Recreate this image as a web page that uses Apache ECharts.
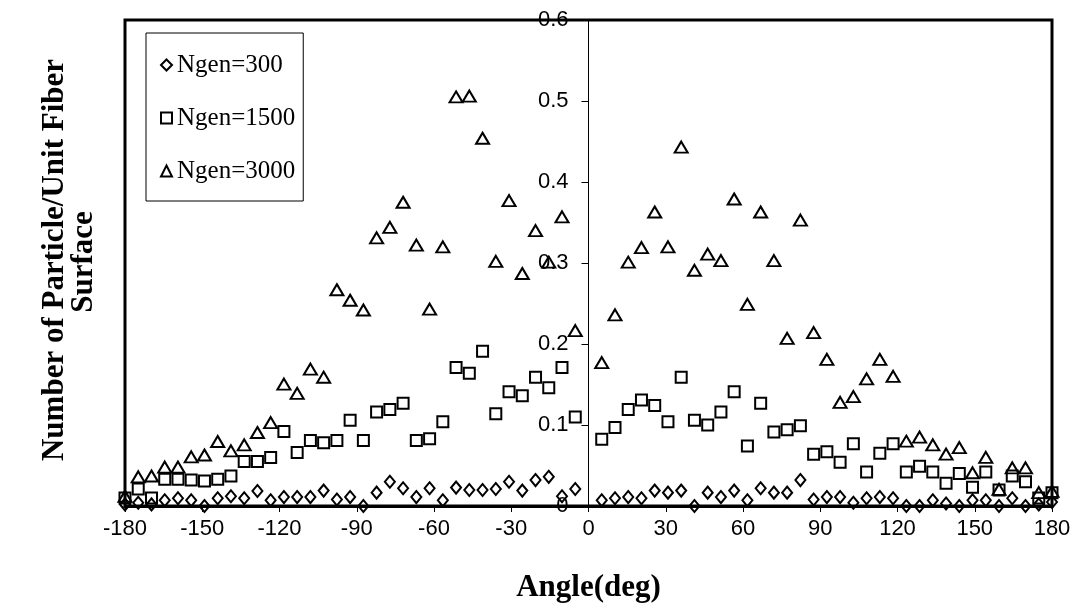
<!DOCTYPE html>
<html>
<head>
<meta charset="utf-8">
<script src="https://cdn.jsdelivr.net/npm/echarts@6/dist/echarts.min.js"></script>
<style>
  html, body { margin: 0; padding: 0; background: #fff; }
  #chart { width: 1083px; height: 614px; }
</style>
</head>
<body>
<div id="chart"></div>
<script>
// Angulos (grados); no hay punto en 0
const angles = [
  -180, -174.86, -169.71, -164.57, -159.43, -154.29, -149.14, -144, -138.86, -133.71,
  -128.57, -123.43, -118.29, -113.14, -108, -102.86, -97.71, -92.57, -87.43, -82.29,
  -77.14, -72, -66.86, -61.71, -56.57, -51.43, -46.29, -41.14, -36, -30.86,
  -25.71, -20.57, -15.43, -10.29, -5.14,
  5.14, 10.29, 15.43, 20.57, 25.71, 30.86, 36, 41.14, 46.29, 51.43,
  56.57, 61.71, 66.86, 72, 77.14, 82.29, 87.43, 92.57, 97.71, 102.86,
  108, 113.14, 118.29, 123.43, 128.57, 133.71, 138.86, 144, 149.14, 154.29,
  159.43, 164.57, 169.71, 174.86, 180
];

const ngen300 = [
  0.002, 0.004, 0.002, 0.007, 0.0095, 0.007, 0, 0.0095, 0.012, 0.0095,
  0.0185, 0.007, 0.011, 0.011, 0.011, 0.019, 0.008, 0.011, 0, 0.0165,
  0.030, 0.022, 0.011, 0.022, 0.007, 0.0227, 0.0198, 0.0198, 0.021, 0.030,
  0.019, 0.032, 0.036, 0.012, 0.021,
  0.007, 0.0095, 0.011, 0.0095, 0.019, 0.0165, 0.019, 0, 0.0165, 0.011,
  0.019, 0.007, 0.022, 0.0165, 0.0165, 0.032, 0.008, 0.011, 0.011, 0.004,
  0.0095, 0.011, 0.0095, 0, 0, 0.007, 0.003, 0, 0.007, 0.007,
  0, 0.0095, 0, 0.002, 0.005
];

const ngen1500 = [
  0.010, 0.021, 0.010, 0.033, 0.033, 0.032, 0.031, 0.033, 0.037, 0.055,
  0.055, 0.060, 0.092, 0.066, 0.081, 0.078, 0.081, 0.106, 0.081, 0.116,
  0.119, 0.127, 0.081, 0.083, 0.104, 0.171, 0.164, 0.191, 0.114, 0.141,
  0.136, 0.159, 0.146, 0.171, 0.110,
  0.0825, 0.097, 0.119, 0.131, 0.124, 0.104, 0.159, 0.106, 0.100, 0.116,
  0.141, 0.074, 0.127, 0.0915, 0.094, 0.099, 0.064, 0.067, 0.054, 0.077,
  0.042, 0.065, 0.077, 0.042, 0.049, 0.042, 0.028, 0.040, 0.023, 0.042,
  0.0198, 0.037, 0.030, 0.010, 0.0165
];

const ngen3000 = [
  0.012, 0.036, 0.037, 0.048, 0.048, 0.0606, 0.063, 0.0796, 0.068, 0.0755,
  0.0907, 0.103, 0.1505, 0.139, 0.169, 0.159, 0.267, 0.254, 0.242, 0.331,
  0.344, 0.375, 0.322, 0.243, 0.320, 0.505, 0.506, 0.454, 0.302, 0.377,
  0.287, 0.340, 0.301, 0.357, 0.2165,
  0.177, 0.236, 0.301, 0.319, 0.363, 0.320, 0.443, 0.291, 0.311, 0.303,
  0.379, 0.249, 0.363, 0.303, 0.207, 0.353, 0.214, 0.181, 0.128, 0.135,
  0.157, 0.181, 0.160, 0.080, 0.085, 0.0755, 0.064, 0.072, 0.041, 0.060,
  0.0206, 0.047, 0.047, 0.0165, 0.018
];

const seriesNames = ['Ngen=300', 'Ngen=1500', 'Ngen=3000'];

const sans = '"Liberation Sans", Arial, sans-serif';
const serif = '"Liberation Serif", "Times New Roman", serif';

// Grid en pixeles; el eje Y se dibuja en x = 0
const gridLeft = 125;
const gridRight = 31;
const plotWidth = 1083 - gridLeft - gridRight;

function pairs(values) {
  return angles.map((a, i) => [a, values[i]]);
}

// Marcador hueco, borde negro
function hollow(name, values, symbol, size) {
  return {
    name: name,
    type: 'scatter',
    data: pairs(values),
    symbol: symbol,
    symbolSize: size,
    clip: false,
    itemStyle: {
      color: 'rgba(0,0,0,0)',
      borderColor: '#000',
      borderWidth: 2,
      opacity: 1
    },
    emphasis: { disabled: true }
  };
}

const chart = echarts.init(document.getElementById('chart'));

chart.setOption({
  backgroundColor: '#fff',
  animation: false,
  grid: {
    left: gridLeft,
    right: gridRight,
    top: 20,
    bottom: 108,
    show: true,
    borderColor: '#000',
    borderWidth: 3
  },
  legend: {
    orient: 'vertical',
    left: 146,
    top: 33,
    padding: [19, 8, 17, 14],
    itemGap: 27,
    itemWidth: 11,
    itemHeight: 11,
    backgroundColor: '#fff',
    borderColor: '#000',
    borderWidth: 1,
    textStyle: { fontFamily: serif, fontSize: 25, color: '#000', lineHeight: 26 },
    data: seriesNames
  },
  xAxis: {
    type: 'value',
    min: -180,
    max: 180,
    interval: 30,
    name: 'Angle(deg)',
    nameLocation: 'middle',
    nameGap: 66,
    nameTextStyle: { fontFamily: serif, fontSize: 31, fontWeight: 'bold', color: '#000' },
    axisLine: { onZero: false, lineStyle: { color: '#000', width: 3 } },
    axisTick: { show: true, length: 6, lineStyle: { color: '#000', width: 1 } },
    axisLabel: { fontFamily: sans, fontSize: 22, color: '#000', margin: 12 },
    splitLine: { show: false }
  },
  yAxis: {
    type: 'value',
    min: 0,
    max: 0.6,
    interval: 0.1,
    position: 'left',
    offset: -plotWidth / 2,
    axisLine: { onZero: false, lineStyle: { color: '#000', width: 1 } },
    axisTick: { show: true, inside: false, length: 7, lineStyle: { color: '#000', width: 1 } },
    axisLabel: { fontFamily: sans, fontSize: 22, color: '#000', margin: 20 },
    splitLine: { show: false }
  },
  graphic: [
    {
      type: 'text',
      x: 55,
      y: 260,
      rotation: Math.PI / 2,
      style: {
        text: 'Number of Particle/Unit Fiber',
        font: 'bold 31px ' + serif,
        fill: '#000',
        textAlign: 'center',
        textVerticalAlign: 'middle'
      }
    },
    {
      type: 'text',
      x: 84,
      y: 262,
      rotation: Math.PI / 2,
      style: {
        text: 'Surface',
        font: 'bold 31px ' + serif,
        fill: '#000',
        textAlign: 'center',
        textVerticalAlign: 'middle'
      }
    }
  ],
  series: [
    hollow(seriesNames[0], ngen300, 'diamond', [10, 12]),
    hollow(seriesNames[1], ngen1500, 'rect', [11, 11]),
    hollow(seriesNames[2], ngen3000, 'triangle', [13, 11])
  ]
});
</script>
</body>
</html>
